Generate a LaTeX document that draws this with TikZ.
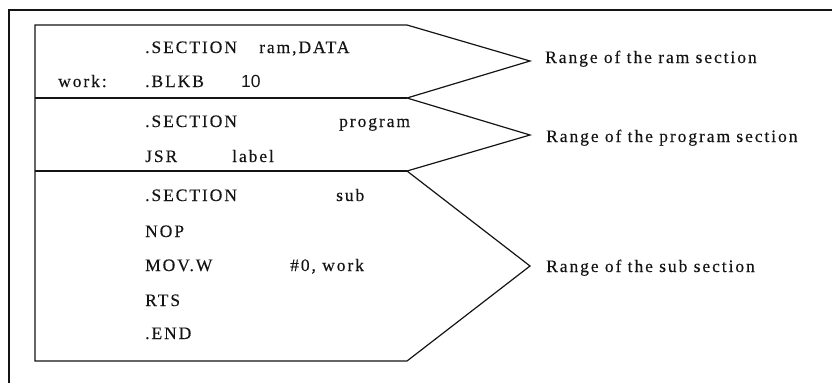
\documentclass[tikz,border=0pt]{standalone}
\usepackage{fontspec}
\setmainfont[LetterSpace=11,FakeBold=0.3]{Liberation Serif}
\newfontfamily\numfont{Liberation Sans}
\usepackage{xcolor}
\usepackage{tikz}
\definecolor{inkline}{HTML}{141414}
\colorlet{inktext}{inkline}
\tikzset{every node/.append style={font=\fontsize{17.5}{20}\selectfont}}
\tikzset{
  srcline/.style={inner sep=0pt,anchor=base west,text=inktext},
  outline/.style={inkline,line width=1.2pt,line join=miter}
}

\begin{document}
\begin{tikzpicture}[x=1pt,y=-1pt]
  \useasboundingbox (0,0) rectangle (832,383);
  % page frame
  \draw[outline] (9,383)--(9,10)--(832,10);
  % tips of the three section ranges
  \coordinate (tipram) at (530,61);
  \coordinate (tipprog) at (530,135);
  \coordinate (tipsub) at (530,266);
  \draw[outline] (35,25)--(407,25)--(tipram)--(407,98)--(tipprog)--(407,171)
    --(tipsub)--(407,361)--(35,361)--cycle;
  \foreach \y in {98,171}
    \draw[outline] (35,\y)--(407,\y);
  % ram section
  \node[srcline] (secram) at (145,53) {.SECTION};
  \node[srcline] (argram) at (259,53) {ram,DATA};
  \node[srcline] (work) at (58,87) {work:};
  \node[srcline] (blkb) at (145,87) {.BLKB};
  \node[srcline] (blkbn) at (241,87) {\numfont 10};
  % program section
  \node[srcline] (secprog) at (145,127) {.SECTION};
  \node[srcline] (argprog) at (339,127) {program};
  \node[srcline] (jsr) at (145,162) {JSR};
  \node[srcline] (jsrlbl) at (232,162) {label};
  % sub section
  \node[srcline] (secsub) at (145,201) {.SECTION};
  \node[srcline] (argsub) at (336,201) {sub};
  \foreach \y/\op [count=\i] in {237/NOP,271/MOV.W,306/RTS,339/.END}
    \node[srcline] (op\i) at (145,\y) {\op};
  \node[srcline] (movarg) at (290,271) {\#0, work};
  % ranges
  \node[srcline] (lblram) at (545,63) {Range of the ram section};
  \node[srcline] (lblprog) at (546,142) {Range of the program section};
  \node[srcline] (lblsub) at (546,272) {Range of the sub section};
\end{tikzpicture}
\end{document}
